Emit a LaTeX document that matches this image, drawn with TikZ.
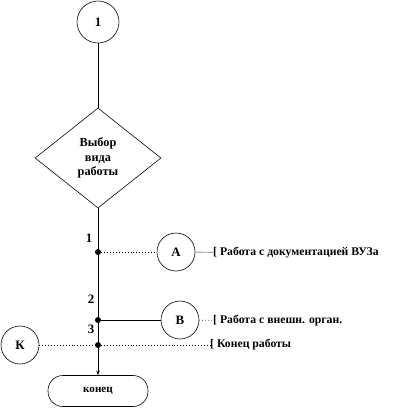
\documentclass[tikz,border=0pt]{standalone}
\usepackage{fontspec}
\setmainfont{Liberation Serif}
\usetikzlibrary{shapes.geometric, arrows.meta, positioning}
\definecolor{mydark}{RGB}{0,0,0}
\definecolor{mygray}{RGB}{150,150,150}
\tikzset{
  conn/.style={circle, draw=mydark, minimum size=1.14cm, inner sep=0pt,
    font=\fontsize{11}{13}\selectfont\bfseries, line width=0.5pt},
  choice/.style={diamond, draw=mydark, minimum width=3.78cm, minimum height=3cm,
    inner sep=0pt, align=center, font=\fontsize{10.5}{12.3}\selectfont\bfseries, line width=0.5pt},
  term/.style={rectangle, draw=mydark, minimum width=3cm, minimum height=0.93cm,
    rounded corners=0.45cm, font=\fontsize{9.5}{11}\selectfont\bfseries, line width=0.5pt},
  jdot/.style={circle, fill=mydark, minimum size=0.18cm, inner sep=0pt},
  note/.style={anchor=west, inner sep=0pt, font=\fontsize{10}{12}\selectfont\bfseries},
  num/.style={inner sep=0pt, font=\fontsize{11}{13}\selectfont\bfseries},
  arrow/.style={-{Stealth[length=4pt, width=3pt]}, line width=0.6pt, color=mydark},
  line/.style={line width=0.6pt, color=mydark},
  dotline/.style={dotted, line width=0.5pt, color=mydark},
  grayline/.style={line width=0.8pt, color=mygray}
}
\begin{document}
\begin{tikzpicture}[x=0.03cm, y=-0.03cm]
  \useasboundingbox (0,0) rectangle (414,410);

  % Start and choice
  \node[conn, minimum size=1.26cm] (start) at (98,22) {1};
  \node[choice] (pick) at (98,158) {Выбор\\вида\\работы};

  % Junctions on the main line
  \node[jdot] (j1) at (98,252) {};
  \node[jdot] (j2) at (98,320) {};
  \node[jdot] (j3) at (98,345) {};
  \node[num] (n1) at (89,238) {1};
  \node[num] (n2) at (91,299) {2};
  \node[num] (n3) at (91,329) {3};

  % Connectors
  \node[conn] (ca) at (176,252) {А};
  \node[conn] (cb) at (180,320) {В};
  \node[conn] (ck) at (20,345) {К};

  % End
  \node[term] (fin) at (98,391) {конец};

  % Notes
  \node[note] (ta) at (213,253) {[ Работа с документацией ВУЗа};
  \node[note] (tb) at (213,321) {[ Работа с внешн. орган.};
  \node[note] (tk) at (210,345) {[ Конец работы};

  % Main line
  \draw[line] (start) -- (pick);
  \draw[line] (pick) -- (j1);
  \draw[line] (j1) -- (j2);
  \draw[line] (j2) -- (j3);
  \draw[arrow] (j3) -- (fin);

  % Branches
  \draw[dotline] (j1) -- (ca);
  \draw[line] (j2) -- (cb);
  \draw[dotline] (ck) -- (j3);
  \draw[dotline] (j3) -- (tk);
  \draw[grayline] (ca) -- (ta);
  \draw[dotline] (cb) -- (tb);
\end{tikzpicture}
\end{document}
